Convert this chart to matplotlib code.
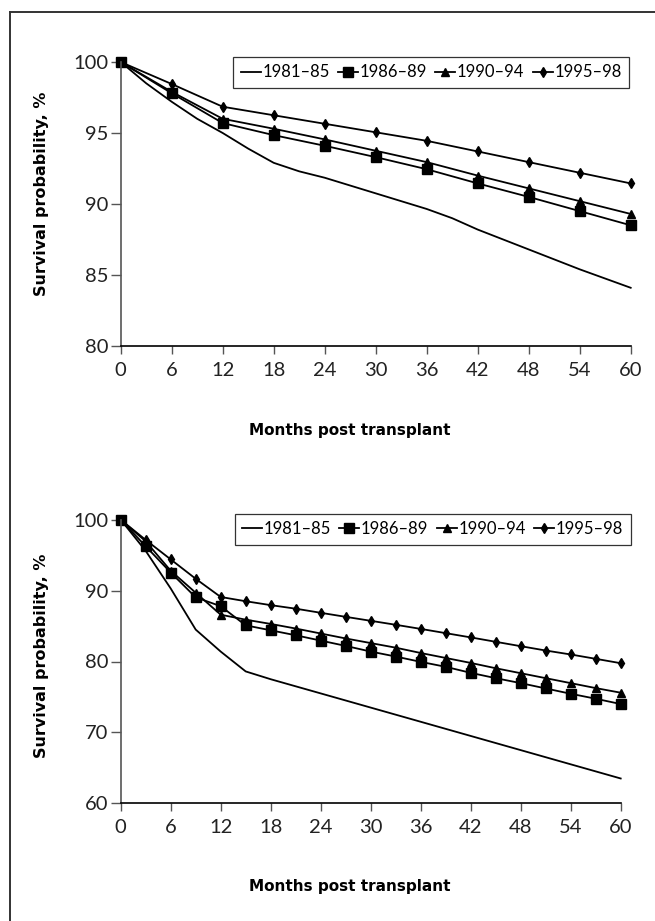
import matplotlib
matplotlib.use('Agg')
import matplotlib.pyplot as plt
from matplotlib.lines import Line2D

# data
legend_labels = ['1981–85', '1986–89', '1990–94', '1995–98']

# top panel
top_months = [0, 6, 12, 18, 24, 30, 36, 42, 48, 54, 60]
top_8185_months = [0, 3, 6, 9, 12, 15, 18, 21, 24, 27, 30, 33, 36, 39, 42, 45, 48, 51, 54, 57, 60]
top_8185 = [100, 98.5, 97.2, 96.0, 95.0, 93.9, 92.9, 92.3, 91.85, 91.3, 90.75, 90.2, 89.65,
            89.0, 88.2, 87.5, 86.8, 86.1, 85.4, 84.75, 84.1]
top_8689 = [100, 97.8, 95.7, 94.85, 94.1, 93.3, 92.45, 91.45, 90.5, 89.5, 88.5]
top_9094 = [100, 97.9, 96.0, 95.3, 94.55, 93.75, 92.95, 92.0, 91.1, 90.2, 89.3]
top_9598 = [100, 98.45, 96.85, 96.25, 95.65, 95.05, 94.45, 93.7, 92.95, 92.2, 91.45]

# bottom panel
bot_months = [0, 3, 6, 9, 12, 15, 18, 21, 24, 27, 30, 33, 36, 39, 42, 45, 48, 51, 54, 57, 60]
bot_8185 = [100, 95.6, 90.3, 84.5, 81.4, 78.6, 77.5, 76.5, 75.5, 74.5, 73.5, 72.5, 71.5,
            70.5, 69.5, 68.5, 67.5, 66.5, 65.5, 64.5, 63.5]
bot_8689 = [100, 96.25, 92.55, 89.05, 87.8, 85.1, 84.4, 83.7, 82.95, 82.2, 81.4, 80.7, 79.95,
            79.25, 78.4, 77.65, 76.95, 76.2, 75.45, 74.75, 74.0]
bot_9094 = [100, 96.95, 92.8, 89.7, 86.6, 85.9, 85.3, 84.65, 83.95, 83.25, 82.6, 81.95, 81.2,
            80.5, 79.8, 79.05, 78.35, 77.65, 76.95, 76.25, 75.6]
bot_9598 = [100, 97.15, 94.4, 91.67, 89.1, 88.5, 87.95, 87.45, 86.87, 86.3, 85.74, 85.18, 84.6,
            84.0, 83.4, 82.78, 82.16, 81.55, 80.99, 80.38, 79.76]

plt.rcParams['font.family'] = ['Lato', 'DejaVu Sans']

fig = plt.figure(figsize=(6.55, 9.21), dpi=100)

# frame round the figure (left and top edges visible)
fig.add_artist(Line2D([10 / 655, 10 / 655], [0, 1 - 12 / 921], transform=fig.transFigure,
                      color='#333333', lw=1.4))
fig.add_artist(Line2D([10 / 655, 1], [1 - 12 / 921, 1 - 12 / 921], transform=fig.transFigure,
                      color='#333333', lw=1.4))


def panel(ax, months, s8185_x, s8185, s8689, s9094, s9598, ylim, yticks, leg_anchor):
    kw = dict(color='black', lw=1.3, clip_on=False)
    ax.plot(s8185_x, s8185, **kw, label=legend_labels[0])
    ax.plot(months, s8689, marker='s', ms=6.5, **kw, label=legend_labels[1])
    ax.plot(months, s9094, marker='^', ms=6, **kw, label=legend_labels[2])
    ax.plot(months, s9598, marker='d', ms=5.5, **kw, label=legend_labels[3])
    ax.set_xlim(0, 60)
    ax.set_ylim(*ylim)
    ax.set_xticks(range(0, 61, 6))
    ax.set_yticks(yticks)
    for s in ['top', 'right']:
        ax.spines[s].set_visible(False)
    ax.spines['left'].set_color('#555555')
    ax.spines['bottom'].set_color('black')
    ax.spines['left'].set_linewidth(1.2)
    ax.spines['bottom'].set_linewidth(1.2)
    ax.tick_params(axis='x', length=5.5, width=1.0, color='#555555', labelsize=14.5, pad=6,
                   labelcolor='#222222')
    ax.tick_params(axis='y', length=7, width=1.0, color='#555555', labelsize=14.5, pad=2,
                   labelcolor='#222222')
    leg = ax.legend(loc='upper right', bbox_to_anchor=leg_anchor, ncol=4, frameon=True,
                    fancybox=False, edgecolor='black', fontsize=12, handlelength=1.2,
                    handletextpad=0.1, columnspacing=0.5, borderpad=0.45,
                    borderaxespad=0)
    leg.get_frame().set_linewidth(0.9)


ax1 = fig.add_axes([120.7 / 655, 1 - 346 / 921, 510 / 655, 284 / 921])
panel(ax1, top_months, top_8185_months, top_8185, top_8689, top_9094, top_9598,
      (80, 100), [80, 85, 90, 95, 100], (0.997, 1.018))

ax2 = fig.add_axes([120.7 / 655, 1 - 803.3 / 921, 500 / 655, 283.6 / 921])
panel(ax2, bot_months, bot_months, bot_8185, bot_8689, bot_9094, bot_9598,
      (60, 100), [60, 70, 80, 90, 100], (1.02, 1.021))

lab = dict(fontsize=11.5, fontweight='bold', family='DejaVu Sans', ha='center', va='center')
fig.text(41.7 / 655, 1 - 194 / 921, 'Survival probability, %', rotation=90, **lab)
fig.text(41.7 / 655, 1 - 656 / 921, 'Survival probability, %', rotation=90, **lab)
lab['fontsize'] = 11
fig.text(350 / 655, 1 - 430 / 921, 'Months post transplant', **lab)
fig.text(350 / 655, 1 - 886.7 / 921, 'Months post transplant', **lab)

fig.savefig('out.png', dpi=100)
